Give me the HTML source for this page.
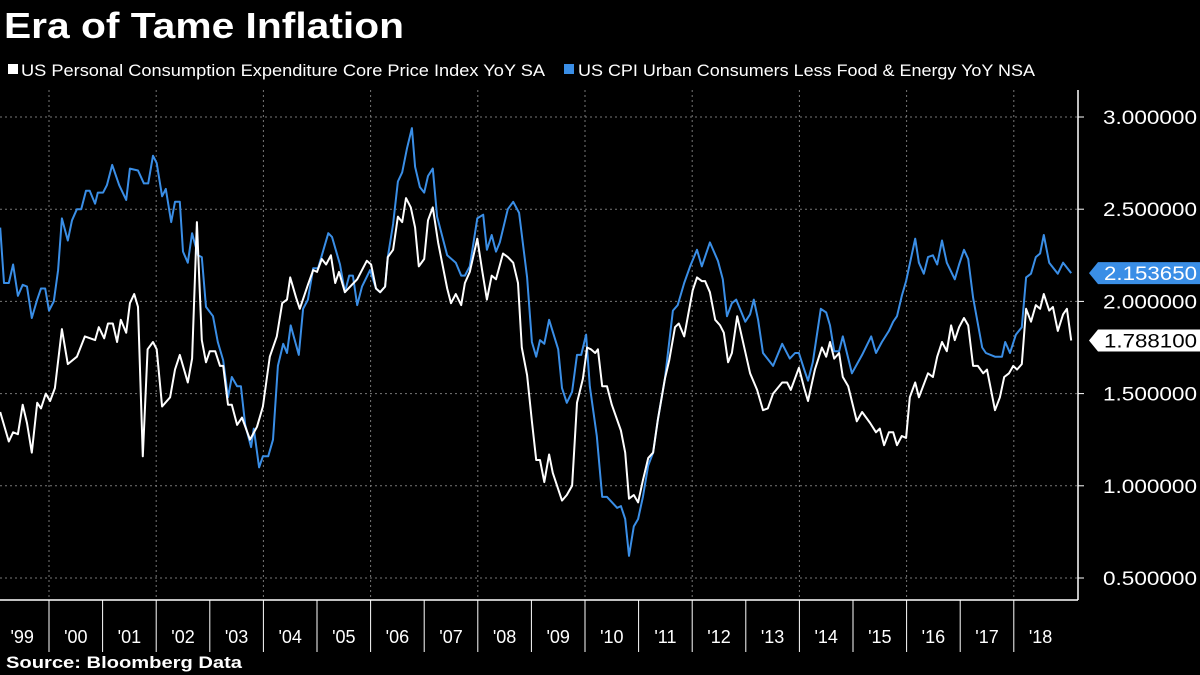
<!DOCTYPE html>
<html><head><meta charset="utf-8">
<style>
html,body{margin:0;padding:0;background:#000;}
body{width:1200px;height:675px;overflow:hidden;font-family:"Liberation Sans",sans-serif;color:#fff;position:relative;}
svg{position:absolute;left:0;top:0;}
</style></head><body>
<svg id="chart" width="1200" height="675">
 <text x="4" y="38" fill="#fff" font-size="36" font-weight="bold" textLength="400" lengthAdjust="spacingAndGlyphs" font-family="Liberation Sans, sans-serif">Era of Tame Inflation</text>
 <g>
  <rect x="8" y="64" width="10" height="10" fill="#fff"></rect>
  <text x="21" y="76" fill="#fff" font-size="17" textLength="524" lengthAdjust="spacingAndGlyphs" font-family="Liberation Sans, sans-serif">US Personal Consumption Expenditure Core Price Index YoY SA</text>
 </g>
 <g>
  <rect x="564" y="64" width="10" height="10" fill="#3a8ee6"></rect>
  <text x="578" y="76" fill="#fff" font-size="17" textLength="457" lengthAdjust="spacingAndGlyphs" font-family="Liberation Sans, sans-serif">US CPI Urban Consumers Less Food &amp; Energy YoY NSA</text>
 </g>
 <text x="6" y="668" fill="#fff" font-size="17" font-weight="bold" textLength="236" lengthAdjust="spacingAndGlyphs" font-family="Liberation Sans, sans-serif">Source: Bloomberg Data</text>
</svg>
<script>
const yTicks=[0.5,1.0,1.5,2.0,2.5,3.0];
const xYears=[1999,2000,2001,2002,2003,2004,2005,2006,2007,2008,2009,2010,2011,2012,2013,2014,2015,2016,2017,2018];
const xLabels=["'99","'00","'01","'02","'03","'04","'05","'06","'07","'08","'09","'10","'11","'12","'13","'14","'15","'16","'17","'18"];
const pceDates=[1999.09,1999.25,1999.33,1999.42,1999.51,1999.59,1999.68,1999.78,1999.85,1999.94,2000.02,2000.11,2000.24,2000.35,2000.52,2000.67,2000.86,2000.93,2001.03,2001.10,2001.19,2001.27,2001.34,2001.44,2001.51,2001.59,2001.66,2001.75,2001.84,2001.94,2002.01,2002.11,2002.26,2002.35,2002.44,2002.59,2002.67,2002.76,2002.85,2002.93,2003.00,2003.10,2003.19,2003.25,2003.34,2003.41,2003.51,2003.60,2003.75,2003.88,2003.99,2004.12,2004.25,2004.35,2004.44,2004.50,2004.61,2004.68,2004.83,2004.93,2005.00,2005.09,2005.17,2005.26,2005.34,2005.41,2005.52,2005.62,2005.75,2005.93,2006.01,2006.10,2006.18,2006.27,2006.32,2006.42,2006.51,2006.59,2006.66,2006.75,2006.83,2006.90,2007.00,2007.07,2007.16,2007.26,2007.43,2007.50,2007.59,2007.69,2007.76,2007.85,2007.99,2008.08,2008.17,2008.26,2008.34,2008.47,2008.56,2008.66,2008.75,2008.82,2008.92,2009.01,2009.09,2009.16,2009.24,2009.33,2009.40,2009.57,2009.66,2009.76,2009.85,2009.96,2010.04,2010.11,2010.19,2010.24,2010.32,2010.41,2010.50,2010.67,2010.75,2010.82,2010.91,2010.99,2011.08,2011.18,2011.27,2011.36,2011.49,2011.57,2011.68,2011.75,2011.85,2011.92,2012.01,2012.09,2012.18,2012.24,2012.33,2012.43,2012.52,2012.59,2012.67,2012.74,2012.84,2013.08,2013.21,2013.32,2013.41,2013.51,2013.68,2013.77,2013.84,2013.99,2014.09,2014.16,2014.29,2014.42,2014.50,2014.57,2014.65,2014.74,2014.81,2014.91,2015.07,2015.17,2015.32,2015.43,2015.50,2015.58,2015.67,2015.75,2015.82,2015.91,2015.99,2016.06,2016.16,2016.23,2016.40,2016.49,2016.57,2016.66,2016.75,2016.83,2016.90,2016.98,2017.07,2017.15,2017.24,2017.33,2017.43,2017.50,2017.65,2017.74,2017.82,2017.91,2017.99,2018.06,2018.15,2018.23,2018.32,2018.41,2018.49,2018.56,2018.66,2018.73,2018.82,2018.92,2018.99,2019.07];
const pceValues=[1.40,1.24,1.29,1.28,1.44,1.34,1.18,1.45,1.42,1.50,1.46,1.53,1.85,1.66,1.70,1.81,1.79,1.86,1.80,1.88,1.88,1.78,1.90,1.83,1.99,2.04,1.97,1.16,1.74,1.78,1.74,1.43,1.48,1.63,1.71,1.56,1.69,2.43,1.79,1.67,1.73,1.73,1.65,1.65,1.44,1.44,1.33,1.37,1.25,1.32,1.43,1.70,1.81,1.99,2.01,2.13,2.02,1.96,2.09,2.17,2.16,2.23,2.20,2.25,2.10,2.16,2.05,2.08,2.12,2.22,2.20,2.07,2.05,2.08,2.24,2.28,2.46,2.43,2.56,2.51,2.40,2.19,2.23,2.44,2.51,2.32,2.07,1.99,2.04,1.98,2.10,2.16,2.34,2.17,2.01,2.14,2.12,2.26,2.24,2.21,2.10,1.75,1.60,1.35,1.14,1.14,1.02,1.17,1.07,0.92,0.95,1.00,1.45,1.58,1.75,1.74,1.72,1.74,1.54,1.54,1.44,1.30,1.18,0.93,0.95,0.91,1.03,1.15,1.18,1.36,1.58,1.68,1.86,1.88,1.81,1.92,2.06,2.13,2.11,2.11,2.05,1.90,1.87,1.83,1.67,1.72,1.92,1.61,1.52,1.41,1.42,1.50,1.56,1.56,1.52,1.64,1.53,1.46,1.63,1.75,1.70,1.78,1.69,1.72,1.59,1.54,1.35,1.40,1.34,1.29,1.31,1.22,1.29,1.29,1.22,1.27,1.26,1.48,1.56,1.48,1.61,1.59,1.70,1.78,1.73,1.87,1.79,1.86,1.91,1.87,1.65,1.65,1.61,1.63,1.41,1.48,1.59,1.61,1.65,1.63,1.66,1.96,1.89,1.98,1.96,2.04,1.95,1.97,1.84,1.93,1.96,1.7881];
const cpiDates=[1999.09,1999.16,1999.25,1999.33,1999.42,1999.51,1999.59,1999.68,1999.78,1999.85,1999.93,2000.00,2000.09,2000.17,2000.24,2000.35,2000.43,2000.52,2000.60,2000.69,2000.76,2000.86,2000.91,2001.01,2001.08,2001.18,2001.31,2001.44,2001.51,2001.66,2001.77,2001.85,2001.94,2002.01,2002.11,2002.18,2002.28,2002.35,2002.44,2002.50,2002.59,2002.67,2002.78,2002.85,2002.93,2003.06,2003.15,2003.25,2003.34,2003.41,2003.51,2003.58,2003.66,2003.77,2003.82,2003.92,2003.99,2004.09,2004.18,2004.27,2004.37,2004.44,2004.51,2004.66,2004.74,2004.83,2004.93,2005.02,2005.21,2005.28,2005.43,2005.52,2005.60,2005.67,2005.75,2005.84,2005.99,2006.10,2006.18,2006.27,2006.32,2006.42,2006.51,2006.59,2006.68,2006.77,2006.83,2006.92,2007.00,2007.07,2007.16,2007.24,2007.43,2007.59,2007.69,2007.76,2007.85,2007.99,2008.10,2008.17,2008.26,2008.34,2008.41,2008.56,2008.66,2008.77,2008.92,2009.01,2009.09,2009.16,2009.24,2009.33,2009.50,2009.57,2009.66,2009.76,2009.85,2009.93,2010.02,2010.09,2010.22,2010.32,2010.41,2010.60,2010.67,2010.75,2010.82,2010.91,2010.99,2011.08,2011.18,2011.27,2011.36,2011.49,2011.64,2011.73,2011.85,2011.96,2012.09,2012.18,2012.33,2012.48,2012.57,2012.65,2012.74,2012.82,2012.99,2013.08,2013.15,2013.23,2013.32,2013.51,2013.68,2013.82,2013.92,2013.99,2014.09,2014.16,2014.25,2014.40,2014.50,2014.57,2014.65,2014.74,2014.81,2014.98,2015.17,2015.34,2015.43,2015.54,2015.67,2015.75,2015.82,2015.91,2015.99,2016.16,2016.23,2016.32,2016.40,2016.49,2016.57,2016.66,2016.75,2016.90,2016.98,2017.07,2017.15,2017.24,2017.41,2017.48,2017.65,2017.78,2017.84,2017.93,2018.04,2018.15,2018.23,2018.32,2018.41,2018.49,2018.56,2018.66,2018.82,2018.92,2019.07];
const cpiValues=[2.40,2.10,2.10,2.20,2.03,2.09,2.08,1.91,2.01,2.07,2.07,1.95,2.00,2.17,2.45,2.33,2.44,2.50,2.50,2.60,2.60,2.53,2.59,2.59,2.63,2.74,2.63,2.55,2.72,2.71,2.64,2.64,2.79,2.75,2.57,2.61,2.43,2.54,2.54,2.27,2.21,2.37,2.25,2.24,1.97,1.92,1.78,1.68,1.48,1.59,1.54,1.54,1.33,1.21,1.31,1.10,1.16,1.16,1.25,1.65,1.77,1.72,1.87,1.71,1.96,2.01,2.18,2.18,2.37,2.35,2.20,2.05,2.14,2.14,1.98,2.08,2.17,2.07,2.05,2.08,2.24,2.42,2.65,2.70,2.83,2.94,2.73,2.62,2.59,2.68,2.72,2.46,2.25,2.21,2.14,2.14,2.19,2.45,2.47,2.28,2.36,2.27,2.32,2.50,2.54,2.48,2.13,1.78,1.70,1.79,1.77,1.90,1.74,1.53,1.45,1.51,1.71,1.71,1.82,1.54,1.27,0.94,0.94,0.88,0.89,0.82,0.62,0.78,0.82,0.94,1.11,1.18,1.36,1.58,1.95,1.98,2.10,2.19,2.28,2.19,2.32,2.22,2.12,1.92,1.99,2.01,1.89,1.93,2.01,1.90,1.72,1.65,1.77,1.69,1.72,1.72,1.63,1.57,1.67,1.96,1.94,1.87,1.73,1.73,1.81,1.61,1.71,1.81,1.72,1.78,1.84,1.89,1.92,2.03,2.11,2.34,2.21,2.15,2.24,2.25,2.20,2.33,2.21,2.12,2.20,2.28,2.23,2.02,1.75,1.72,1.70,1.70,1.78,1.72,1.82,1.86,2.13,2.15,2.24,2.26,2.36,2.21,2.15,2.21,2.15365];
const lastLabels=["2.153650","1.788100"];

const svg=document.getElementById('chart');
const NS='http://www.w3.org/2000/svg';
function xs(yr){return 49+(yr-2000)*53.6;}
function ys(v){return 117+(3-v)*184.4;}
function mk(tag,attrs,parent){const e=document.createElementNS(NS,tag);for(const k in attrs)e.setAttribute(k,attrs[k]);(parent||svg).appendChild(e);return e;}
const plotR=1078, plotB=600;
yTicks.forEach(t=>{
  const g=mk('line',{x1:0,x2:plotR,y1:ys(t),y2:ys(t),stroke:'#777','stroke-dasharray':'2,3','stroke-width':1});
  
  
  const tk=mk('line',{x1:plotR,x2:plotR+6,y1:ys(t),y2:ys(t),stroke:'#fff','stroke-width':1});
  
  
  const lb=mk('text',{x:1103,y:ys(t)+7,fill:'#fff','font-size':19,textLength:94,lengthAdjust:'spacingAndGlyphs','font-family':'Liberation Sans, sans-serif'});
  lb.textContent=t.toFixed(6);
  
  
});
xYears.forEach((y,i)=>{
  if(y%2===0){
    const g=mk('line',{x1:xs(y),x2:xs(y),y1:90,y2:plotB,stroke:'#777','stroke-dasharray':'2,3','stroke-width':1});
    
    
  }
  if(y>1999){
    const tk=mk('line',{x1:xs(y),x2:xs(y),y1:plotB,y2:plotB+52,stroke:'#fff','stroke-width':1});
    
    
  }
  const lb=mk('text',{x:xs(y+0.5),y:643,fill:'#fff','font-size':18,'text-anchor':'middle','font-family':'Liberation Sans, sans-serif'});
  lb.textContent=xLabels[i];
  
  
});
const ax=mk('line',{x1:0,x2:plotR,y1:plotB,y2:plotB,stroke:'#fff','stroke-width':1.5});


const ay=mk('line',{x1:plotR,x2:plotR,y1:90,y2:plotB,stroke:'#fff','stroke-width':1.5});


function line(dates,vals,color,name){
  const d=dates.map((t,i)=>(i?'L':'M')+xs(t).toFixed(1)+','+ys(vals[i]).toFixed(1)).join('');
  const p=mk('path',{d:d,fill:'none',stroke:color,'stroke-width':2,'stroke-linejoin':'round'});
  
  
}
line(cpiDates,cpiValues,'#3a8ee6','cpi-line');
line(pceDates,pceValues,'#ffffff','pce-line');
function tag(v,label,bg,fg,name){
  const y=ys(v);
  const g=mk('g',{});
  
  
  mk('path',{d:`M1089,${y} L1098,${y-11} L1200,${y-11} L1200,${y+11} L1098,${y+11} Z`,fill:bg},g);
  const t=mk('text',{x:1104,y:y+7,fill:fg,'font-size':19,textLength:93,lengthAdjust:'spacingAndGlyphs','font-family':'Liberation Sans, sans-serif'},g);
  t.textContent=label;
}
tag(cpiValues[cpiValues.length-1],lastLabels[0],'#3a8ee6','#fff','cpi-last-value-tag');
tag(pceValues[pceValues.length-1],lastLabels[1],'#fff','#000','pce-last-value-tag');
</script>
</body></html>
